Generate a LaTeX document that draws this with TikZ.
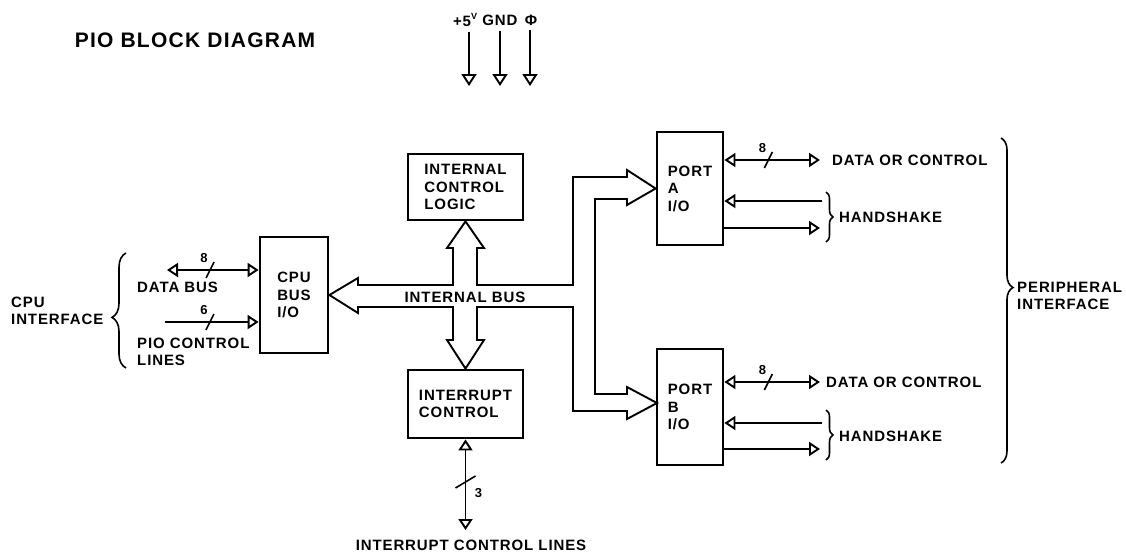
\documentclass[tikz,border=0pt]{standalone}
\usepackage{fontspec}
\setmainfont{Liberation Sans}[LetterSpace=6]
\usetikzlibrary{arrows.meta, positioning, decorations.pathreplacing}

\begin{document}
\begin{tikzpicture}[
    x=1pt, y=-1pt,
    >={Triangle[open, length=11pt, width=14pt]},
    txt/.style={font=\bfseries\fontsize{15}{17.5}\selectfont, inner sep=1pt, align=left},
    blk/.style={draw, line width=2.8pt, txt},
    sig/.style={line width=1.9pt},
    bus/.style={line width=1.9pt, line join=miter},
    num/.style={font=\bfseries\fontsize{13}{15}\selectfont, inner sep=0pt},
    brc/.style 2 args={decorate, decoration={brace, amplitude=#1, aspect=#2}, line width=1.6pt},
    slash/.pic={\draw[line width=1.6pt] (-4,8) -- (4,-8); \node[num] at (-6,-12) {\tikzpictext};},
    vslash/.pic={\draw[line width=1.6pt] (-10,6) -- (10,-6); \node[num] at (13,11) {\tikzpictext};}
  ]
  \useasboundingbox (0,0) rectangle (1126,555);

  \node[txt, font=\bfseries\fontsize{21}{24}\selectfont] (title) at (195,40) {PIO BLOCK DIAGRAM};

  % supply pins
  \node[txt] (v5) at (465,20) {+5\raisebox{.45em}{\fontsize{9}{9}\selectfont V}};
  \node[txt] (gnd) at (500,20) {GND};
  \node[txt] (phi) at (531,20) {Φ};
  \coordinate (v5e) at (469,86);
  \coordinate (gnde) at (500,86);
  \coordinate (phie) at (530,86);
  \foreach \p in {v5, gnd, phi}
    \draw[sig, >={Triangle[open, length=12pt, width=15pt]}, ->, shorten <=4pt] (\p.south -| \p e) -- (\p e);

  % blocks
  \node[blk, minimum width=68pt, minimum height=116pt] (cpu) at (294,295) {CPU\\BUS\\I/O};
  \node[blk, minimum width=115pt, minimum height=66pt] (icl) at (465.5,187) {INTERNAL\\CONTROL\\LOGIC};
  \node[blk, minimum width=115pt, minimum height=68pt] (irq) at (465.5,404) {INTERRUPT\\CONTROL};
  \node[blk, minimum width=66pt, minimum height=113pt] (porta) at (690,188.5) {PORT\\A\\I/O};
  \node[blk, minimum width=66pt, minimum height=116pt] (portb) at (690,407) {PORT\\B\\I/O};

  % internal bus
  \draw[bus] (cpu.east) -- (358,278) -- (358,285) -- (453,285) -- (453,248) -- (447,248)
    -- (icl.south) -- (484,248) -- (477,248) -- (477,285) -- (573,285) -- (573,177)
    -- (627,177) -- (627,170) -- (porta.west) -- (627,205) -- (627,199) -- (595,199)
    -- (595,394) -- (627,394) -- (627,387) -- (657,403) -- (627,419) -- (627,411)
    -- (573,411) -- (573,307) -- (477,307) -- (477,340) -- (484,340) -- (irq.north)
    -- (447,340) -- (453,340) -- (453,307) -- (358,307) -- (358,313) -- cycle;
  \node[txt] (ibus) at (465,297) {INTERNAL BUS};

  % CPU side
  \coordinate (dbus) at (167,270);
  \coordinate (pioc) at (165,322);
  \draw[sig, <->] (dbus) -- coordinate[pos=.47] (dbt) (cpu.west |- dbus);
  \draw[sig, ->] (pioc) -- coordinate[pos=.48] (piot) (cpu.west |- pioc);
  \pic[pic text=8] at (dbt) {slash};
  \pic[pic text=6] at (piot) {slash};
  \node[txt, anchor=west] (dbl) at (136,287) {DATA BUS};
  \node[txt, anchor=west] (pcl) at (136,352) {PIO CONTROL\\LINES};
  \draw[brc={14pt}{0.44}] (126,368) -- (126,253);
  \node[txt, anchor=west] (cpi) at (10,311) {CPU\\INTERFACE};

  % port A
  \coordinate (pad) at (820,160);
  \coordinate (pahi) at (822,201);
  \coordinate (paho) at (820,228);
  \draw[sig, <->] (porta.east |- pad) -- coordinate[pos=.46] (padt) (pad);
  \pic[pic text=8] at (padt) {slash};
  \draw[sig, ->] (pahi) -- (porta.east |- pahi);
  \draw[sig, ->] (porta.east |- paho) -- (paho);
  \draw[brc={7pt}{0.5}] (826,192) -- (826,242);
  \node[txt, anchor=west] (padl) at (831,160) {DATA OR CONTROL};
  \node[txt, anchor=west] (pahs) at (838,217) {HANDSHAKE};

  % port B
  \coordinate (pbd) at (820,382);
  \coordinate (pbhi) at (822,423);
  \coordinate (pbho) at (820,449);
  \draw[sig, <->] (portb.east |- pbd) -- coordinate[pos=.46] (pbdt) (pbd);
  \pic[pic text=8] at (pbdt) {slash};
  \draw[sig, ->] (pbhi) -- (portb.east |- pbhi);
  \draw[sig, ->] (portb.east |- pbho) -- (pbho);
  \draw[brc={7pt}{0.5}] (826,410) -- (826,460);
  \node[txt, anchor=west] (pbdl) at (825,382) {DATA OR CONTROL};
  \node[txt, anchor=west] (pbhs) at (838,436) {HANDSHAKE};

  % peripheral side
  \draw[brc={12pt}{0.46}] (1001,138) -- (1001,463);
  \node[txt, anchor=west] (pif) at (1016,296) {PERIPHERAL\\INTERFACE};

  % interrupt lines
  \coordinate (irqe) at (465.5,530);
  \draw[sig, <->] (irq.south) -- coordinate[pos=.47] (irqt) (irqe);
  \pic[pic text=3] at (irqt) {vslash};
  \node[txt] (irql) at (471,545) {INTERRUPT CONTROL LINES};
\end{tikzpicture}
\end{document}
